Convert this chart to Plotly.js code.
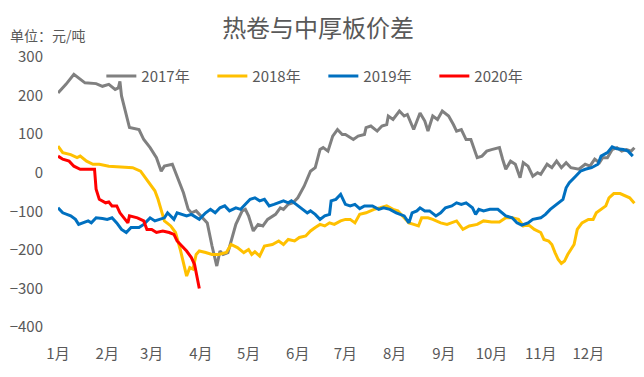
<!DOCTYPE html>
<html>
<head>
<meta charset="utf-8">
<script src="https://cdn.plot.ly/plotly-3.0.1.min.js"></script>
<style>
html,body{margin:0;padding:0;background:#fff;}
#chart{width:644px;height:377px;}
</style>
</head>
<body>
<div id="chart"></div>
<script>
// Month-day of each observation (plotted on a common calendar year)
const days2017 = ['01-01','01-03','01-06','01-11','01-14','01-18','01-25','01-29','02-02','02-06','02-08','02-09','02-10','02-12','02-15','02-21','02-24','02-28','03-04','03-07','03-09','03-14','03-17','03-21','03-24','03-26','03-29','04-01','04-05','04-08','04-11','04-13','04-15','04-18','04-20','04-23','04-27','04-29','05-01','05-04','05-07','05-10','05-13','05-18','05-21','05-23','05-26','05-29','06-01','06-05','06-09','06-12','06-15','06-17','06-20','06-23','06-26','06-29','07-01','07-06','07-09','07-13','07-14','07-17','07-21','07-24','07-27','07-28','07-31','08-04','08-07','08-09','08-13','08-17','08-20','08-22','08-25','08-28','08-31','09-04','09-07','09-09','09-12','09-15','09-18','09-22','09-25','09-28','10-01','10-06','10-08','10-10','10-13','10-16','10-19','10-21','10-24','10-27','10-30','11-01','11-05','11-08','11-11','11-14','11-17','11-20','11-25','11-29','12-02','12-05','12-08','12-10','12-13','12-16','12-19','12-22','12-25','12-28','12-30'];
const values2017 = [207,216,229,255,246,233,231,224,229,216,220,237,199,164,117,112,86,65,39,4,17,22,-9,-52,-95,-104,-99,-112,-130,-190,-242,-203,-212,-207,-177,-134,-99,-95,-112,-151,-134,-138,-121,-108,-91,-95,-82,-78,-65,-35,4,13,60,65,56,95,112,99,99,86,95,99,117,121,108,121,125,147,138,160,147,151,112,155,134,108,147,138,160,147,125,108,112,86,86,39,43,56,60,65,35,9,30,22,-13,26,17,-9,0,-4,22,13,30,13,26,13,9,22,17,35,26,39,39,60,65,56,60,56,65];

const days2018 = ['01-01','01-04','01-09','01-13','01-15','01-19','01-23','01-27','02-02','02-07','02-13','02-17','02-22','02-25','02-28','03-03','03-05','03-07','03-09','03-13','03-16','03-19','03-21','03-23','03-25','03-27','03-29','03-31','04-04','04-08','04-12','04-17','04-20','04-24','04-28','05-01','05-03','05-05','05-08','05-11','05-16','05-20','05-23','05-26','05-30','06-02','06-06','06-09','06-12','06-15','06-18','06-21','06-24','06-28','07-01','07-04','07-07','07-10','07-14','07-19','07-23','07-27','07-31','08-03','08-07','08-10','08-13','08-16','08-18','08-22','08-25','08-30','09-03','09-06','09-09','09-13','09-17','09-22','09-26','10-01','10-06','10-10','10-14','10-18','10-21','10-24','10-28','11-01','11-03','11-06','11-08','11-10','11-12','11-14','11-16','11-18','11-22','11-24','11-27','12-01','12-04','12-06','12-09','12-12','12-14','12-17','12-21','12-24','12-27','12-30'];
const values2018 = [69,52,47,39,43,30,22,22,17,16,13,13,4,-13,-30,-47,-69,-95,-125,-138,-155,-199,-233,-268,-246,-250,-212,-203,-207,-212,-212,-207,-186,-194,-207,-199,-212,-205,-216,-190,-186,-177,-186,-173,-177,-168,-164,-151,-142,-134,-138,-130,-134,-125,-121,-121,-130,-108,-104,-95,-91,-86,-95,-99,-117,-130,-134,-138,-117,-117,-121,-130,-134,-130,-125,-147,-138,-134,-125,-128,-128,-117,-117,-121,-138,-134,-147,-155,-173,-177,-186,-207,-225,-235,-229,-212,-186,-147,-130,-121,-121,-104,-95,-86,-65,-54,-54,-60,-65,-79];

const days2019 = ['01-01','01-04','01-09','01-12','01-14','01-17','01-20','01-22','01-25','01-29','02-01','02-04','02-07','02-10','02-13','02-16','02-21','02-24','02-28','03-03','03-06','03-09','03-11','03-15','03-17','03-20','03-23','03-26','03-30','03-31','04-04','04-07','04-10','04-13','04-16','04-19','04-23','04-26','04-29','05-02','05-05','05-08','05-11','05-14','05-17','05-20','05-23','05-26','05-28','05-31','06-04','06-07','06-09','06-12','06-15','06-18','06-21','06-22','06-25','06-28','07-01','07-04','07-07','07-10','07-13','07-18','07-22','07-25','07-29','08-02','08-07','08-10','08-12','08-15','08-17','08-20','08-23','08-27','08-30','09-02','09-06','09-09','09-12','09-15','09-19','09-21','09-23','09-26','09-30','10-05','10-10','10-14','10-17','10-20','10-24','10-27','11-01','11-04','11-07','11-11','11-15','11-17','11-19','11-23','11-26','11-29','12-03','12-07','12-09','12-13','12-16','12-19','12-23','12-26','12-29'];
const values2019 = [-91,-104,-112,-121,-134,-130,-125,-130,-117,-119,-121,-117,-130,-147,-155,-142,-142,-134,-117,-125,-121,-117,-104,-121,-104,-108,-112,-108,-117,-121,-104,-95,-104,-91,-86,-99,-91,-95,-82,-69,-65,-73,-69,-86,-82,-78,-73,-78,-73,-82,-95,-104,-99,-108,-121,-112,-108,-73,-69,-56,-82,-86,-82,-93,-86,-86,-95,-91,-95,-104,-112,-130,-104,-99,-91,-99,-99,-112,-104,-91,-86,-78,-82,-78,-91,-108,-95,-99,-95,-95,-112,-117,-130,-136,-130,-121,-117,-108,-95,-82,-69,-39,-26,-9,4,9,13,22,43,52,67,62,60,56,43];

const days2020 = ['01-01','01-04','01-08','01-11','01-15','01-20','01-24','01-25','01-27','01-31','02-02','02-04','02-07','02-09','02-12','02-14','02-15','02-20','02-24','02-26','03-01','03-04','03-08','03-12','03-15','03-17','03-20','03-23','03-26','03-28','03-31'];
const values2020 = [43,35,30,17,9,9,9,-43,-69,-78,-76,-86,-86,-104,-121,-130,-112,-117,-125,-147,-147,-155,-151,-155,-160,-177,-190,-203,-220,-238,-300];

const seriesNames = ['2017年','2018年','2019年','2020年'];
const seriesColors = ['#808080','#FFC000','#0070C0','#FF0000'];
const monthStarts = ['01-01','02-01','03-01','04-01','05-01','06-01','07-01','08-01','09-01','10-01','11-01','12-01'];
const monthLabels = ['1月','2月','3月','4月','5月','6月','7月','8月','9月','10月','11月','12月'];

const YEAR = '2017-';
const toDate = arr => arr.map(d => YEAR + d);
const allDays = [days2017, days2018, days2019, days2020];
const allValues = [values2017, values2018, values2019, values2020];

const traces = seriesNames.map((name, i) => ({
  type: 'scatter',
  mode: 'lines',
  name: name,
  x: toDate(allDays[i]),
  y: allValues[i],
  line: {color: seriesColors[i], width: 3},
  hoverinfo: 'x+y+name'
}));

const FONT = '"Noto Sans CJK SC", "Noto Sans", sans-serif';
const GREY = '#595959';

const layout = {
  width: 644,
  height: 377,
  margin: {l: 58, r: 8, t: 57, b: 50},
  paper_bgcolor: '#ffffff',
  plot_bgcolor: '#ffffff',
  font: {family: FONT, color: GREY, size: 15},
  title: {text: '热卷与中厚板价差', font: {family: FONT, size: 24, color: GREY}, x: 0.494, xanchor: 'center', y: 0.925, yanchor: 'middle'},
  showlegend: true,
  legend: {
    orientation: 'h',
    x: 0.075, xanchor: 'left',
    y: 0.99, yanchor: 'top',
    font: {family: FONT, size: 15, color: GREY},
    bgcolor: 'rgba(0,0,0,0)',
    entrywidth: 66,
    entrywidthmode: 'pixels'
  },
  xaxis: {
    type: 'date',
    range: [YEAR + '01-01', YEAR + '12-31'],
    tickvals: toDate(monthStarts),
    ticktext: monthLabels,
    showgrid: false,
    zeroline: false,
    showline: false,
    ticks: '',
    ticklabelstandoff: 16,
    tickfont: {family: FONT, size: 15, color: GREY},
    fixedrange: true
  },
  xaxis2: {
    type: 'date',
    overlaying: 'x',
    matches: 'x',
    anchor: 'free',
    position: 400 / 700,
    side: 'bottom',
    tickvals: toDate(monthStarts),
    showticklabels: false,
    showgrid: false,
    zeroline: false,
    showline: true,
    linecolor: '#a6a6a6',
    linewidth: 1,
    ticks: 'outside',
    ticklen: 4,
    tickcolor: '#a6a6a6',
    tickwidth: 1
  },
  yaxis: {
    range: [-400, 300],
    tickvals: [-400, -300, -200, -100, 0, 100, 200, 300],
    showgrid: false,
    zeroline: false,
    showline: false,
    ticks: '',
    ticklabelstandoff: 14,
    tickfont: {family: FONT, size: 15, color: GREY},
    fixedrange: true
  },
  annotations: [{
    text: '单位：元/吨',
    xref: 'paper', yref: 'paper',
    x: -50 / 578, xanchor: 'left',
    y: 1 + 22 / 270, yanchor: 'middle',
    showarrow: false,
    font: {family: FONT, size: 14, color: GREY}
  }]
};

Plotly.newPlot('chart', traces, layout, {displayModeBar: false, staticPlot: true});
</script>
</body>
</html>
